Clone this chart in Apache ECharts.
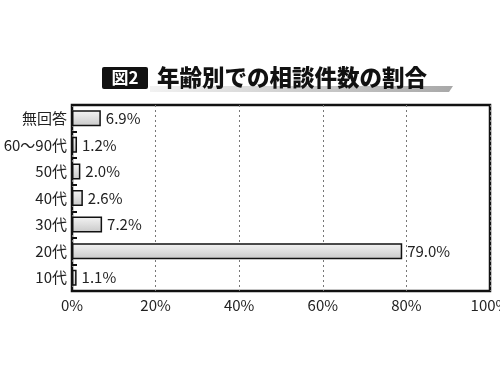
<!DOCTYPE html>
<html><head><meta charset="utf-8">
<script src="https://cdn.jsdelivr.net/npm/echarts@6/dist/echarts.min.js"></script>
<style>html,body{margin:0;padding:0;background:#fff}#c{width:500px;height:375px}</style>
</head><body><div id="c"></div>
<script>
const categories = ['10代', '20代', '30代', '40代', '50代', '60〜90代', '無回答'];
const values = [1.1, 79.0, 7.2, 2.6, 2.0, 1.2, 6.9];
const xTicks = [0, 20, 40, 60, 80, 100];
const titleTag = '図2';
const titleText = '年齢別での相談件数の割合';

const chart = echarts.init(document.getElementById('c'));
const font = '"Noto Sans CJK JP", "Noto Sans", sans-serif';
chart.setOption({
  animation: false,
  grid: { left: 72, right: 10, top: 105, bottom: 84, containLabel: false, outerBoundsMode: 'none', show: true, borderColor: '#111', borderWidth: 2.5, backgroundColor: 'transparent' },
  xAxis: {
    type: 'value', min: 0, max: 100, interval: 20,
    axisLine: { show: false }, axisTick: { show: false },
    axisLabel: { formatter: v => v + '%', fontFamily: font, fontSize: 15, color: '#222', margin: 7 },
    splitLine: { show: true, lineStyle: { type: [2, 3], color: '#777', width: 1 } }
  },
  yAxis: {
    type: 'category', data: categories,
    axisLine: { show: false },
    axisTick: { show: true, inside: true, length: 5, lineStyle: { color: '#111', width: 2 } },
    axisLabel: { fontFamily: font, fontSize: 15, color: '#222', margin: 5 }
  },
  series: [{
    type: 'bar', data: values, barWidth: 16,
    itemStyle: {
      color: new echarts.graphic.LinearGradient(0, 0, 0, 1, [
        { offset: 0, color: '#f4f4f4' }, { offset: 1, color: '#c8c8c8' }
      ]),
      borderColor: '#111', borderWidth: 1.5
    },
    label: { show: true, position: 'right', distance: 5, formatter: p => p.value.toFixed(1) + '%', fontFamily: font, fontSize: 15, color: '#222' }
  }],
  graphic: [
    { type: 'polygon', shape: { points: [[150, 86], [453, 86], [449, 92], [150, 92]] },
      style: { fill: new echarts.graphic.LinearGradient(0, 0, 1, 0, [{ offset: 0, color: '#f2f2f2' }, { offset: 1, color: '#a8a8a8' }]) } },
    { type: 'rect', shape: { x: 102, y: 67, width: 46, height: 22, r: 2 }, style: { fill: '#111' } },
    { type: 'text', x: 125, y: 78, style: { text: titleTag, fill: '#fff', font: 'bold 17px ' + font, textAlign: 'center', textVerticalAlign: 'middle' } },
    { type: 'text', x: 157, y: 77, style: { text: titleText, fill: '#111', font: '900 22.5px ' + font, textAlign: 'left', textVerticalAlign: 'middle' } }
  ]
});
</script></body></html>
